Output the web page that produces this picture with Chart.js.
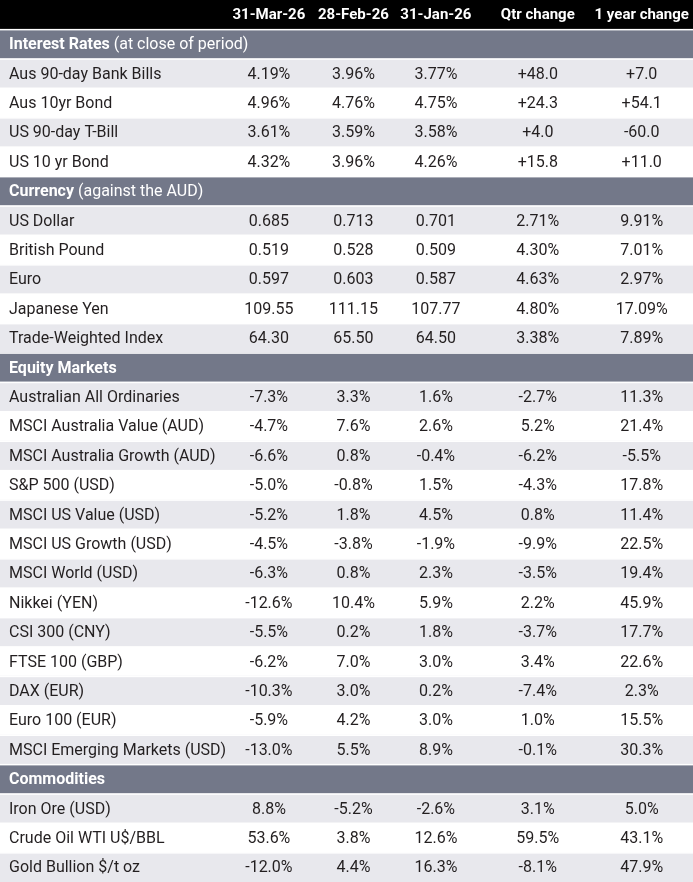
<!DOCTYPE html>
<html><head><meta charset="utf-8">
<script src="https://cdn.jsdelivr.net/npm/chart.js@4"></script>
<style>html,body{margin:0;padding:0;background:#fff}#w{width:693px;height:882px;position:relative}</style>
</head><body><div id="w"><canvas id="c"></canvas></div>
<script>
const columns = ["31-Mar-26","28-Feb-26","31-Jan-26","Qtr change","1 year change"];
// kind: h = column header, s = section, d = data row
const rowKinds = ["h","s","d","d","d","d","s","d","d","d","d","d","s","d","d","d","d","d","d","d","d","d","d","d","d","d","s","d","d","d"];
const sectionTitles = {1:["Interest Rates"," (at close of period)"],6:["Currency"," (against the AUD)"],12:["Equity Markets",""],26:["Commodities",""]};
const rowLabels = ["","","Aus 90-day Bank Bills","Aus 10yr Bond","US 90-day T-Bill","US 10 yr Bond","",
"US Dollar","British Pound","Euro","Japanese Yen","Trade-Weighted Index","",
"Australian All Ordinaries","MSCI Australia Value (AUD)","MSCI Australia Growth (AUD)","S&P 500 (USD)","MSCI US Value (USD)","MSCI US Growth (USD)","MSCI World (USD)","Nikkei (YEN)","CSI 300 (CNY)","FTSE 100 (GBP)","DAX (EUR)","Euro 100 (EUR)","MSCI Emerging Markets (USD)","",
"Iron Ore (USD)","Crude Oil WTI U$/BBL","Gold Bullion $/t oz"];
const colMar = ["","","4.19%","4.96%","3.61%","4.32%","","0.685","0.519","0.597","109.55","64.30","","-7.3%","-4.7%","-6.6%","-5.0%","-5.2%","-4.5%","-6.3%","-12.6%","-5.5%","-6.2%","-10.3%","-5.9%","-13.0%","","8.8%","53.6%","-12.0%"];
const colFeb = ["","","3.96%","4.76%","3.59%","3.96%","","0.713","0.528","0.603","111.15","65.50","","3.3%","7.6%","0.8%","-0.8%","1.8%","-3.8%","0.8%","10.4%","0.2%","7.0%","3.0%","4.2%","5.5%","","-5.2%","3.8%","4.4%"];
const colJan = ["","","3.77%","4.75%","3.58%","4.26%","","0.701","0.509","0.587","107.77","64.50","","1.6%","2.6%","-0.4%","1.5%","4.5%","-1.9%","2.3%","5.9%","1.8%","3.0%","0.2%","3.0%","8.9%","","-2.6%","12.6%","16.3%"];
const colQtr = ["","","+48.0","+24.3","+4.0","+15.8","","2.71%","4.30%","4.63%","4.80%","3.38%","","-2.7%","5.2%","-6.2%","-4.3%","0.8%","-9.9%","-3.5%","2.2%","-3.7%","3.4%","-7.4%","1.0%","-0.1%","","3.1%","59.5%","-8.1%"];
const colYear = ["","","+7.0","+54.1","-60.0","+11.0","","9.91%","7.01%","2.97%","17.09%","7.89%","","11.3%","21.4%","-5.5%","17.8%","11.4%","22.5%","19.4%","45.9%","17.7%","22.6%","2.3%","15.5%","30.3%","","5.0%","43.1%","47.9%"];
const valueCols = [colMar,colFeb,colJan,colQtr,colYear];

const colors = [];
let alt = 0;
rowKinds.forEach(k=>{
  if(k==="h"){colors.push("#000000");}
  else if(k==="s"){colors.push("#737889");alt=0;}
  else {colors.push(alt%2===0?"#e8e8ed":"#ffffff");alt++;}
});
const FONT = "'Liberation Sans Narrow','Roboto','Liberation Sans',sans-serif";
const colCenters = [0.388,0.510,0.629,0.776,0.926];

const tablePlugin = {
  id:"tableText",
  afterDatasetsDraw(chart){
    const ctx = chart.ctx, ys = chart.scales.y, xs = chart.scales.x;
    ctx.save();
    ctx.textBaseline = "middle";
    ctx.fillStyle="#ffffff";
    for(let i=1;i<rowKinds.length;i++){
      const yb=(ys.getPixelForValue(i-1)+ys.getPixelForValue(i))/2;
      ctx.fillRect(xs.left,yb-0.5,xs.right-xs.left,1.5);
    }
    rowKinds.forEach((k,i)=>{
      const y = ys.getPixelForValue(i)+1;
      if(k==="h"){
        ctx.fillStyle="#ffffff"; ctx.font="bold 15px "+FONT; ctx.textAlign="center";
        columns.forEach((c,j)=>ctx.fillText(c, xs.getPixelForValue(colCenters[j]), y));
      } else if(k==="s"){
        const [b,r]=sectionTitles[i];
        ctx.fillStyle="#ffffff"; ctx.textAlign="left";
        ctx.font="bold 16px "+FONT; ctx.fillText(b, xs.left+9, y);
        const w=ctx.measureText(b).width;
        ctx.font="16px "+FONT; ctx.fillText(r, xs.left+9+w, y);
      } else {
        ctx.fillStyle="#231f20"; ctx.textAlign="left"; ctx.font="16px "+FONT;
        ctx.fillText(rowLabels[i], xs.left+9, y);
        ctx.textAlign="center";
        valueCols.forEach((col,j)=>ctx.fillText(col[i], xs.getPixelForValue(colCenters[j]), y));
      }
    });
    ctx.restore();
  }
};

new Chart(document.getElementById("c"),{
  type:"bar",
  data:{labels:rowKinds.map((k,i)=>String(i)),
    datasets:[{data:rowKinds.map(()=>[0,1]),backgroundColor:colors,barPercentage:1,categoryPercentage:1,borderWidth:0}]},
  options:{indexAxis:"y",responsive:true,maintainAspectRatio:false,animation:false,
    layout:{padding:0},
    plugins:{legend:{display:false},tooltip:{enabled:false}},
    scales:{x:{type:"linear",min:0,max:1,display:false},y:{display:false}}},
  plugins:[tablePlugin]
});
</script></body></html>
